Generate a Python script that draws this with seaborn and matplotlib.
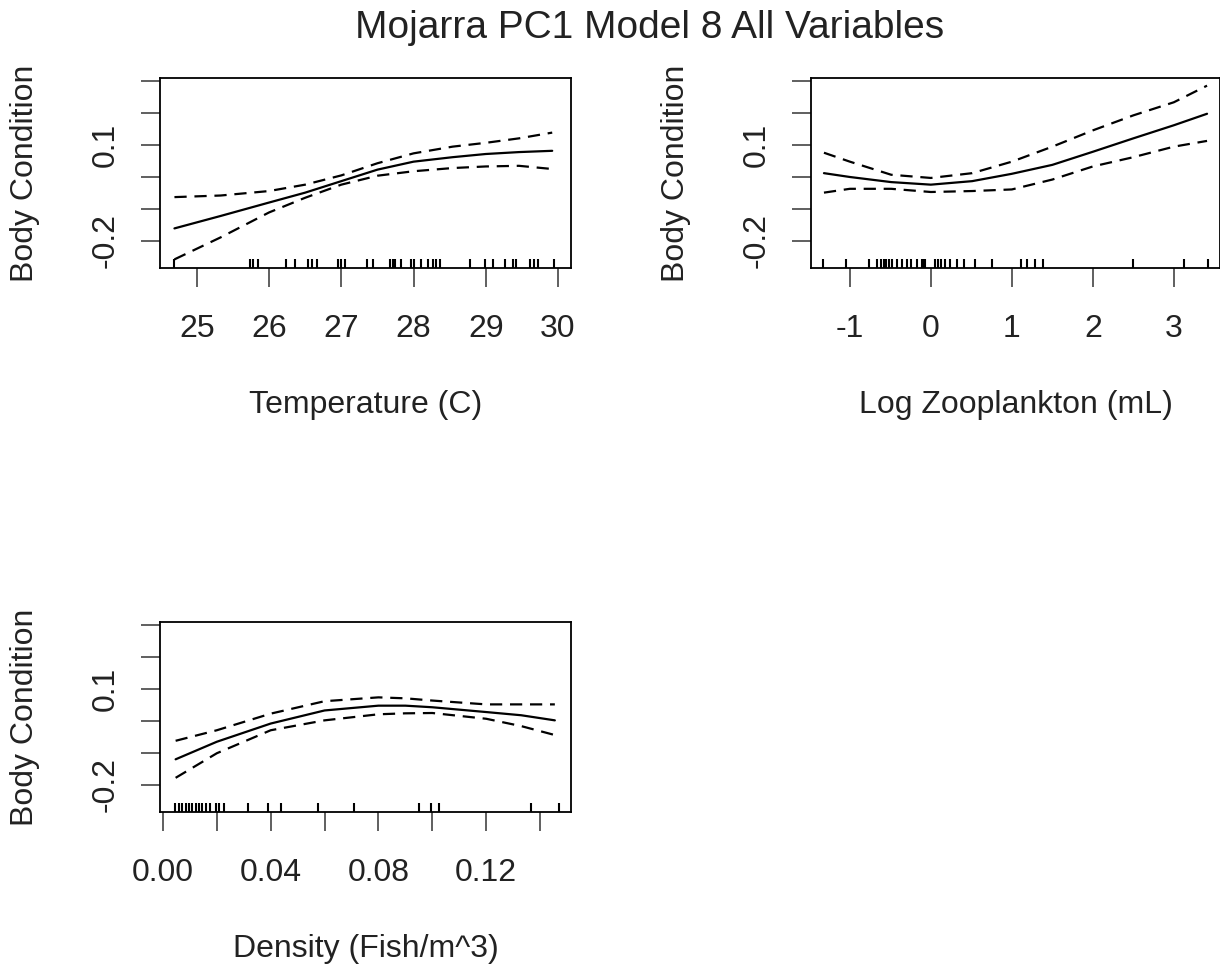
import numpy as np
import pandas as pd
import matplotlib
matplotlib.use("Agg")
import matplotlib.pyplot as plt
import seaborn as sns

# --- data ---
# Temperature smooth
temp_x = [24.69, 25.33, 26.0, 26.5, 27.0, 27.5, 28.0, 28.54, 29.0, 29.46, 29.92]
temp_fit = [-0.161, -0.122, -0.080, -0.049, -0.013, 0.023, 0.048, 0.062, 0.072, 0.078, 0.082]
temp_up = [-0.063, -0.058, -0.044, -0.024, 0.005, 0.043, 0.074, 0.095, 0.107, 0.121, 0.139]
temp_lo = [-0.258, -0.189, -0.111, -0.065, -0.024, 0.004, 0.018, 0.028, 0.033, 0.035, 0.025]
temp_rug = [24.68, 25.74, 25.78, 25.84, 26.24, 26.36, 26.54, 26.59, 26.66, 26.96, 27.00,
            27.05, 27.35, 27.44, 27.67, 27.71, 27.75, 27.83, 27.97, 28.01, 28.11, 28.20,
            28.27, 28.31, 28.36, 28.78, 28.99, 29.10, 29.26, 29.38, 29.42, 29.61, 29.67,
            29.72, 29.95]

# Log zooplankton smooth
zoo_x = [-1.32, -1.0, -0.49, 0.0, 0.51, 1.0, 1.5, 2.0, 2.5, 3.0, 3.41]
zoo_fit = [0.012, 0.0, -0.016, -0.024, -0.013, 0.010, 0.038, 0.079, 0.121, 0.162, 0.198]
zoo_up = [0.076, 0.048, 0.007, -0.003, 0.012, 0.048, 0.095, 0.146, 0.193, 0.234, 0.286]
zoo_lo = [-0.049, -0.037, -0.037, -0.047, -0.044, -0.039, -0.008, 0.033, 0.062, 0.095, 0.113]
zoo_rug = [-1.33, -1.05, -0.77, -0.66, -0.61, -0.58, -0.55, -0.52, -0.48, -0.42, -0.36,
           -0.30, -0.25, -0.17, -0.11, -0.09, -0.07, 0.05, 0.09, 0.13, 0.18, 0.24, 0.32,
           0.41, 0.55, 0.76, 1.11, 1.19, 1.28, 1.38, 2.50, 3.13, 3.42]

# Density smooth
dens_x = [0.0047, 0.02, 0.04, 0.06, 0.08, 0.09, 0.10, 0.12, 0.133, 0.1455]
dens_fit = [-0.120, -0.065, -0.008, 0.033, 0.048, 0.048, 0.043, 0.028, 0.018, 0.002]
dens_up = [-0.062, -0.029, 0.023, 0.062, 0.074, 0.071, 0.064, 0.052, 0.052, 0.052]
dens_lo = [-0.178, -0.101, -0.029, 0.002, 0.021, 0.024, 0.025, 0.007, -0.016, -0.044]
dens_rug = [0.0046, 0.0059, 0.0071, 0.0084, 0.0096, 0.0109, 0.0121, 0.0134, 0.0146, 0.0159,
            0.0175, 0.0196, 0.0209, 0.0225, 0.0317, 0.0390, 0.0440, 0.0577, 0.0708, 0.0951,
            0.0995, 0.1024, 0.1366, 0.1469]

y_ticks = [-0.2, -0.1, 0.0, 0.1, 0.2, 0.3]
y_labels = ["-0.2", "", "", "0.1", "", ""]

sns.set_theme(style="white")
plt.rcParams["font.family"] = ["Liberation Sans", "DejaVu Sans"]

W, H = 1220, 969
fig = plt.figure(figsize=(W / 100, H / 100), dpi=100)
FS = 23


def px_axes(left, top, right, bottom):
    return fig.add_axes([left / W, 1 - bottom / H, (right - left) / W, (bottom - top) / H])


def draw_panel(ax, x, fit, up, lo, rug, xlim, xticks, xlabels, xlabel, ylab_px):
    sns.lineplot(x=x, y=fit, ax=ax, color="black", linewidth=1.6, estimator=None, sort=False)
    for band in (up, lo):
        sns.lineplot(x=x, y=band, ax=ax, color="black", linewidth=1.6,
                     linestyle=(0, (5.5, 3.5)), estimator=None, sort=False)
    sns.rugplot(x=rug, ax=ax, height=0.045, color="black", linewidth=1.5)
    ax.set_xlim(*xlim)
    ax.set_ylim(-0.285, 0.31)
    ax.set_xticks(xticks)
    ax.set_xticklabels(xlabels)
    ax.set_yticks(y_ticks)
    ax.set_yticklabels(y_labels, rotation=90, va="center")
    ax.tick_params(axis="both", direction="out", length=14, width=1.2,
                   color="#444444", labelsize=FS, labelcolor="#222222")
    ax.tick_params(axis="x", pad=19, bottom=True)
    ax.tick_params(axis="y", pad=14, left=True)
    for s in ax.spines.values():
        s.set_visible(True)
        s.set_color("black")
        s.set_linewidth(1.3)
    ax.set_xlabel("")
    ax.set_ylabel("")
    ax.grid(False)
    pos = ax.get_position()
    ax.text(0.5, -(405 - 268) / (pos.height * H), xlabel, transform=ax.transAxes,
            ha="center", va="center", fontsize=FS, color="#222222")
    ax.text(-ylab_px / (pos.width * W), 0.5, "Body Condition",
            transform=ax.transAxes, rotation=90, ha="center", va="center",
            fontsize=FS, color="#222222")


ax1 = px_axes(160, 78, 571, 268)
draw_panel(ax1, temp_x, temp_fit, temp_up, temp_lo, temp_rug,
           (24.49, 30.18), [25, 26, 27, 28, 29, 30],
           ["25", "26", "27", "28", "29", "30"], "Temperature (C)", 160 - 25)

ax2 = px_axes(811, 78, 1220, 268)
draw_panel(ax2, zoo_x, zoo_fit, zoo_up, zoo_lo, zoo_rug,
           (-1.48, 3.57), [-1, 0, 1, 2, 3],
           ["-1", "0", "1", "2", "3"], "Log Zooplankton (mL)", 811 - 676)

ax3 = px_axes(160, 622, 571, 812)
draw_panel(ax3, dens_x, dens_fit, dens_up, dens_lo, dens_rug,
           (-0.0011, 0.1515), [0.0, 0.02, 0.04, 0.06, 0.08, 0.10, 0.12, 0.14],
           ["0.00", "", "0.04", "", "0.08", "", "0.12", ""], "Density (Fish/m^3)", 160 - 25)

fig.text(650 / W, 1 - 28 / H, "Mojarra PC1 Model 8 All Variables",
         ha="center", va="center", fontsize=28, color="#222222")

fig.savefig("out.png", dpi=100)
